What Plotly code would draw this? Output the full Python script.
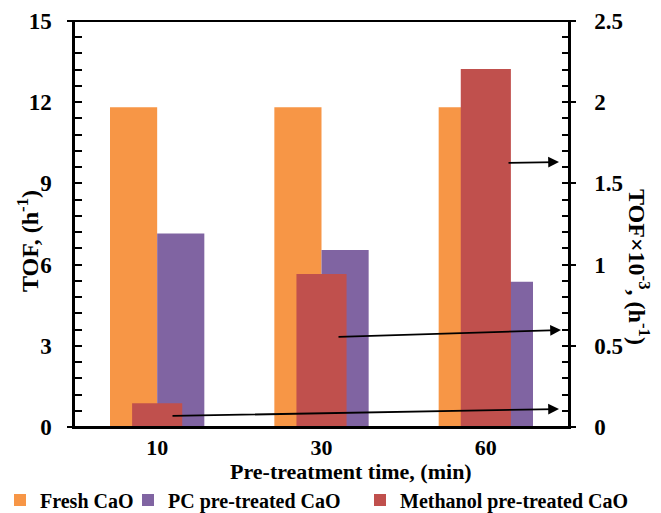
import plotly.graph_objects as go

categories = ["10", "30", "60"]
fresh_cao = [11.81, 11.81, 11.81]
pc_cao = [7.15, 6.54, 5.37]
methanol_cao = [0.146, 0.942, 2.204]  # TOF x10^-3, right axis

C_ORANGE = "#F79646"
C_PURPLE = "#8064A2"
C_RED = "#C0504D"
FONT = "Liberation Serif"


def bf(size):
    return dict(family=FONT, size=size, color="black", weight="bold")


fig = go.Figure()
fig.add_trace(go.Bar(x=categories, y=fresh_cao, name="Fresh CaO", marker_color=C_ORANGE,
                     width=0.287, offset=-0.287, marker_line_width=0, legend="legend"))
fig.add_trace(go.Bar(x=categories, y=pc_cao, name="PC pre-treated CaO", marker_color=C_PURPLE,
                     width=0.287, offset=0.0, marker_line_width=0, legend="legend2"))
fig.add_trace(go.Bar(x=categories, y=methanol_cao, name="Methanol pre-treated CaO", marker_color=C_RED,
                     width=0.305, offset=-0.1525, marker_line_width=0, yaxis="y2", legend="legend3"))

W, H = 661, 513
L, R, T, B = 75, 93, 21, 86
pw = W - L - R
ph = H - T - B


def leg(xpx):
    return dict(orientation="h", x=xpx / W, y=(H - 500) / H, xref="container", yref="container",
                xanchor="left", yanchor="middle", font=bf(20), itemwidth=30,
                bgcolor="rgba(0,0,0,0)")


def px_x(p):
    return (p - L) / pw


def px_y(p):
    return (T + ph - p) / ph


fig.update_layout(
    width=W, height=H,
    margin=dict(l=L, r=R, t=T, b=B, autoexpand=False),
    plot_bgcolor="white", paper_bgcolor="white",
    barmode="overlay",
    font=bf(21),
    showlegend=True,
    legend=leg(-4),
    legend2=leg(128),
    legend3=leg(360),
    xaxis=dict(type="category", showline=True, linecolor="black", linewidth=2,
               ticks="", tickfont=bf(22), automargin=False,
               range=[-0.5, 2.5], showgrid=False),
    yaxis=dict(range=[0, 15], tickvals=[0, 3, 6, 9, 12, 15], showline=True, linecolor="black",
               linewidth=2.5, ticks="inside", ticklen=7, tickwidth=2, tickcolor="black",
               minor=dict(dtick=0.6, ticks="inside", ticklen=7, tickwidth=1.5, tickcolor="black"),
               tickfont=bf(23), showgrid=False, zeroline=False, automargin=False,
               ticklabelstandoff=16),
    yaxis2=dict(range=[0, 2.5], tickvals=[0, 0.5, 1, 1.5, 2, 2.5],
                ticktext=["0", "0.5", "1", "1.5", "2", "2.5"],
                overlaying="y", side="right", showline=True, linecolor="black",
                linewidth=2.5, ticks="outside", ticklen=5, tickwidth=2, tickcolor="black",
                minor=dict(dtick=0.1, ticks="inside", ticklen=6, tickwidth=1.5, tickcolor="black"),
                tickfont=bf(23), showgrid=False, zeroline=False, automargin=False,
                ticklabelstandoff=14),
)

# top border line and bottom extension
fig.add_shape(type="line", xref="paper", yref="paper", x0=-8 / pw, x1=1 + 5 / pw, y0=1, y1=1,
              line=dict(color="black", width=2))
fig.add_shape(type="line", xref="paper", yref="paper", x0=-8 / pw, x1=1 + 5 / pw, y0=0, y1=0,
              line=dict(color="black", width=2))

# axis titles
fig.add_annotation(text="Pre-treatment time, (min)", xref="paper", yref="paper",
                   x=px_x(351), y=px_y(471), xanchor="center", yanchor="middle",
                   showarrow=False, font=bf(22))
fig.add_annotation(text="TOF, (h<sup>-1</sup>)", xref="paper", yref="paper",
                   x=px_x(28), y=px_y(241), xanchor="center", yanchor="middle",
                   textangle=-90, showarrow=False, font=bf(24))
fig.add_annotation(text="TOF×10<sup>-3</sup>, (h<sup>-1</sup>)", xref="paper", yref="paper",
                   x=px_x(639), y=px_y(267), xanchor="center", yanchor="middle",
                   textangle=90, showarrow=False, font=bf(24))

# arrows pointing to the right axis (tail -> head), pixel positions
arrows = [((171, 416), (559, 409)), ((337, 337), (561, 330)), ((507, 163), (559, 162))]
for (tx, ty), (hx, hy) in arrows:
    fig.add_annotation(xref="paper", yref="paper", x=px_x(hx), y=px_y(hy),
                       ax=tx - hx, ay=ty - hy, axref="pixel", ayref="pixel",
                       showarrow=True, arrowhead=2, arrowsize=1.2, arrowwidth=1.8,
                       arrowcolor="black", text="")

fig.write_html("out.html")
